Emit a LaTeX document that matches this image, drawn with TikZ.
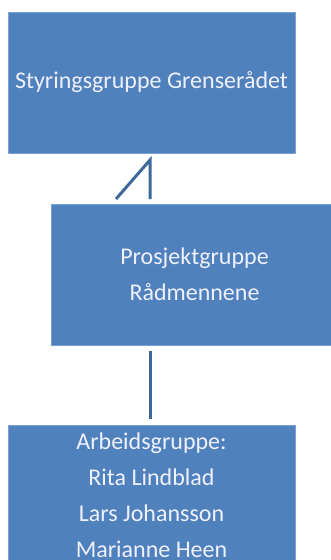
\documentclass[tikz,border=0pt]{standalone}
\usepackage{fontspec}
\setmainfont{Carlito}
\usepackage{tikz}
\usetikzlibrary{arrows}

\definecolor{boksblaa}{RGB}{79,129,189}
\definecolor{kantblaa}{RGB}{120,160,210}
\definecolor{linjeblaa}{RGB}{62,104,154}

\tikzset{
	boks/.style={rectangle,fill=boksblaa,draw=kantblaa,line width=0.6pt,minimum width=287pt,minimum height=141pt,inner sep=0pt,text=white!94!blue,align=center,font=\fontsize{24}{36}\selectfont},
	linje/.style={color=linjeblaa,line width=3pt}
}

\begin{document}
\begin{tikzpicture}[line cap=butt,line join=miter,>=triangle 45,x=1pt,y=-1pt]
		\useasboundingbox (0,0) rectangle (331,560);
		
		\node[boks] (styring) at (151.5,82.5) {Styringsgruppe Grenser\aa det};
		\node[boks] (prosjekt) at (194.5,274.5) {Prosjektgruppe\\R\aa dmennene};
		\node[boks] (arbeid) at (151.5,495.5) {Arbeidsgruppe:\\Rita Lindblad\\Lars Johansson\\Marianne Heen};
		
		\coordinate (s1) at (116,199);
		\coordinate (s2) at (150,160);
		\coordinate (s3) at (150,199);
		\draw[linje] (s1) -- (s2) -- (s3);
		
		\coordinate (p1) at (prosjekt.south -| s3);
		\coordinate (a1) at (arbeid.north -| s3);
		\draw[linje] ([yshift=-6pt]p1) -- ([yshift=6pt]a1);
	\end{tikzpicture}
\end{document}
